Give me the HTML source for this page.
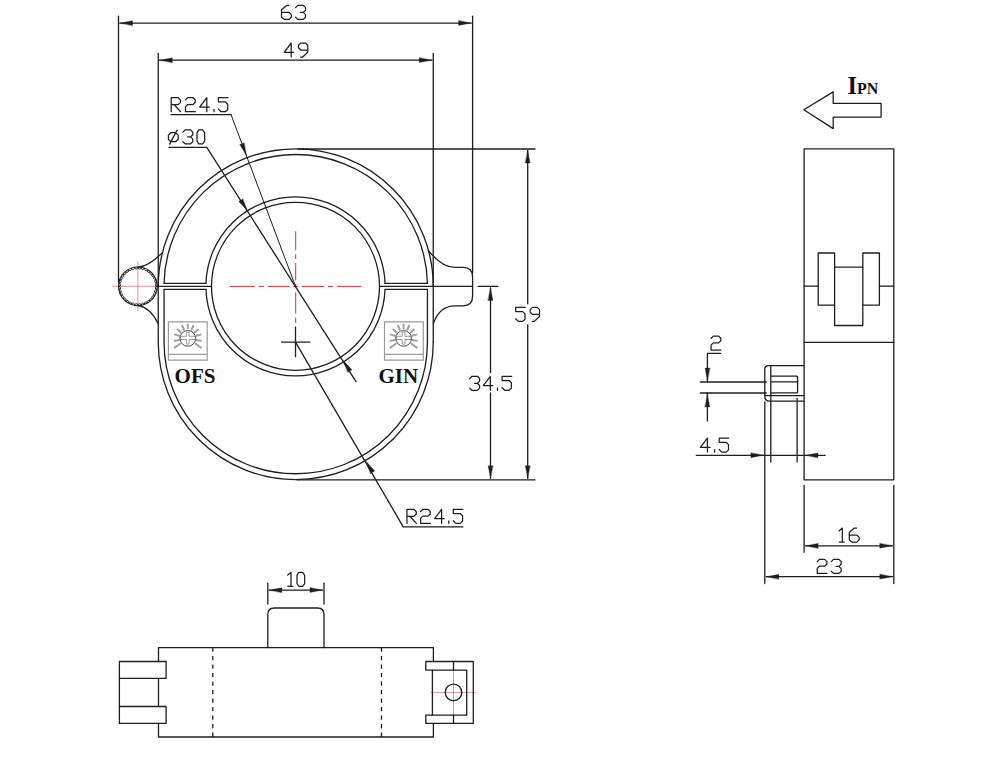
<!DOCTYPE html><html><head><meta charset="utf-8"><style>html,body{margin:0;padding:0;background:#fff;overflow:hidden}svg{display:block}.ar{fill:#1e1e1e;stroke-width:0.35;stroke-linejoin:bevel}.tx{stroke-width:1.25}text{font-family:"Liberation Serif",serif;font-weight:bold;fill:#111}</style></head><body><svg width="1000" height="758" viewBox="0 0 1000 758"><rect width="1000" height="758" fill="#fff"/><path d="M229.6 286.4H254.8M258.7 286.4H263.9M267.8 286.4H289.6M293.2 286.4H298.3M301.9 286.4H324.4M328 286.4H333.1M336.8 286.4H361.4M295.7 231.3V250.3M295.7 254.3V259M295.7 263V280.5M295.7 284.2V288.2M295.7 292.3V313.6M295.7 317.6V323.1" fill="none" stroke="#cc2a2f" stroke-width="0.95"/><path d="M112.3 286.3H157M137.9 261.3V311.1M430.7 692.4H475.7M453.5 670.2V715.1" fill="none" stroke="#cc4a58" stroke-width="0.6"/><g fill="none" stroke="#1e1e1e" stroke-width="1.3" stroke-linecap="round" stroke-linejoin="round"><line x1="118.5" y1="16.2" x2="118.5" y2="282"/><line x1="472.6" y1="16.2" x2="472.6" y2="273"/><line x1="119.8" y1="23.1" x2="471.3" y2="23.1"/><path class="ar" d="M120.2 23.1 L132.5 20.75 L132.5 25.45 Z"/><path class="ar" d="M470.9 23.1 L458.6 25.45 L458.6 20.75 Z"/><path class="tx" d="M288.9 5.4 L286.6 5.4 L281.5 9.7 L281.5 17 L284.1 19.4 L289.2 19.4 L291.4 17 L291.4 14.8 L289.2 12.4 L281.5 12.4M295.6 7.6 L297.8 5.4 L303.3 5.4 L305.5 7.6 L305.5 10.2 L303.3 12.4 L300.4 12.4M303.3 12.4 L305.5 14.6 L305.5 17.2 L303.3 19.4 L297.8 19.4 L295.6 17.2"/><line x1="158.25" y1="53.4" x2="158.25" y2="342.1"/><line x1="433.25" y1="53.4" x2="433.25" y2="342.1"/><line x1="159.55" y1="60.2" x2="431.95" y2="60.2"/><path class="ar" d="M159.95 60.2 L172.25 57.85 L172.25 62.55 Z"/><path class="ar" d="M431.55 60.2 L419.25 62.55 L419.25 57.85 Z"/><path class="tx" d="M291.2 57 L291.2 43 L284.2 52.3 L293.8 52.3M307.8 50 L300.8 50 L298.5 47.8 L298.5 45.2 L300.8 43 L305.6 43 L307.8 45.2 L307.8 52.1 L302.7 57 L300.6 57"/><path d="M158.25 286.3 A137.5 137.5 0 0 1 433.25 286.3"/><path d="M158.25 342.1 A137.5 137.5 0 0 0 433.25 342.1"/><path d="M164.08 283.4 A131.7 131.7 0 0 1 427.42 283.4"/><line x1="164.08" y1="283.4" x2="205.95" y2="283.4"/><line x1="385.05" y1="283.4" x2="427.42" y2="283.4"/><path d="M205.95 283.4 A89.6 89.6 0 0 1 385.05 283.4"/><path d="M164.05 289.3 L164.05 342.1 A131.7 131.7 0 0 0 427.45 342.1 L427.45 289.3"/><line x1="164.05" y1="289.3" x2="205.95" y2="289.3"/><line x1="385.05" y1="289.3" x2="427.45" y2="289.3"/><path d="M205.95 289.3 A89.6 89.6 0 0 0 385.05 289.3"/><circle cx="295.5" cy="286.3" r="84"/><line x1="158.25" y1="286.4" x2="211.5" y2="286.4"/><line x1="379.5" y1="286.4" x2="472.6" y2="286.4"/><path d="M428.4 250.6 C436 260 444 267.4 455 267.4 L463 267.4 Q472.6 267.4 472.6 277 L472.6 296 Q472.6 305.8 463 305.8 L455 305.8 C444 305.8 437 313 433.3 323.6"/><path d="M161.6 253.4 C153 262 146 266.6 138 267.2"/><path d="M138 305.4 C146 307 153 313 158.1 323.5"/><circle cx="137.9" cy="286.3" r="19.3" stroke-width="1.2"/><path d="M156.9 286.3 A1.66 1.66 0 0 0 156.61 289.6M156.61 289.6 A1.66 1.66 0 0 0 155.75 292.8M155.75 292.8 A1.66 1.66 0 0 0 154.35 295.8M154.35 295.8 A1.66 1.66 0 0 0 152.45 298.51M152.45 298.51 A1.66 1.66 0 0 0 150.11 300.85M150.11 300.85 A1.66 1.66 0 0 0 147.4 302.75M147.4 302.75 A1.66 1.66 0 0 0 144.4 304.15M144.4 304.15 A1.66 1.66 0 0 0 141.2 305.01M141.2 305.01 A1.66 1.66 0 0 0 137.9 305.3M137.9 305.3 A1.66 1.66 0 0 0 134.6 305.01M134.6 305.01 A1.66 1.66 0 0 0 131.4 304.15M131.4 304.15 A1.66 1.66 0 0 0 128.4 302.75M128.4 302.75 A1.66 1.66 0 0 0 125.69 300.85M125.69 300.85 A1.66 1.66 0 0 0 123.35 298.51M123.35 298.51 A1.66 1.66 0 0 0 121.45 295.8M121.45 295.8 A1.66 1.66 0 0 0 120.05 292.8M120.05 292.8 A1.66 1.66 0 0 0 119.19 289.6M119.19 289.6 A1.66 1.66 0 0 0 118.9 286.3M118.9 286.3 A1.66 1.66 0 0 0 119.19 283M119.19 283 A1.66 1.66 0 0 0 120.05 279.8M120.05 279.8 A1.66 1.66 0 0 0 121.45 276.8M121.45 276.8 A1.66 1.66 0 0 0 123.35 274.09M123.35 274.09 A1.66 1.66 0 0 0 125.69 271.75M125.69 271.75 A1.66 1.66 0 0 0 128.4 269.85M128.4 269.85 A1.66 1.66 0 0 0 131.4 268.45M131.4 268.45 A1.66 1.66 0 0 0 134.6 267.59M134.6 267.59 A1.66 1.66 0 0 0 137.9 267.3M137.9 267.3 A1.66 1.66 0 0 0 141.2 267.59M141.2 267.59 A1.66 1.66 0 0 0 144.4 268.45M144.4 268.45 A1.66 1.66 0 0 0 147.4 269.85M147.4 269.85 A1.66 1.66 0 0 0 150.11 271.75M150.11 271.75 A1.66 1.66 0 0 0 152.45 274.09M152.45 274.09 A1.66 1.66 0 0 0 154.35 276.8M154.35 276.8 A1.66 1.66 0 0 0 155.75 279.8M155.75 279.8 A1.66 1.66 0 0 0 156.61 283M156.61 283 A1.66 1.66 0 0 0 156.9 286.3" stroke-width="0.95"/><line x1="171" y1="114.6" x2="231" y2="114.6"/><line x1="231" y1="114.6" x2="295.5" y2="286.3" stroke-width="1"/><path class="ar" d="M246.3 155.3 L239.77 144.61 L244.17 142.96 Z"/><path class="tx" d="M171.2 111.7 L171.2 97.7 L178.25 97.7 L180.5 100.1 L180.5 102.35 L178.25 104.6 L171.2 104.6M174.05 104.6 L180.65 111.7M185.5 99.9 L187.7 97.7 L193 97.7 L195.2 99.9 L195.2 102.3 L193 104.5 L187.7 104.5 L185.5 106.7 L185.5 111.7 L195.3 111.7M206.8 111.7 L206.8 97.7 L199.8 107 L209.4 107M214 109.3 L214 111.7M228 97.7 L218.4 97.7 L218.4 101.9 L225.4 101.9 L227.7 104.2 L227.7 109.5 L225.4 111.7 L221 111.7 L218.4 109.1"/><line x1="169" y1="147.4" x2="206.8" y2="147.4"/><line x1="206.8" y1="147.4" x2="356" y2="381.6"/><path class="ar" d="M247.4 210.6 L238.77 201.52 L242.73 198.98 Z"/><path class="ar" d="M343.3 360.6 L351.89 369.71 L347.93 372.24 Z"/><path class="tx" d="M170.8 132.73 L175.55 132.73 L178.19 135.1 L178.19 139.33 L175.55 141.7 L170.8 141.7 L168.43 139.33 L168.43 135.1 L170.8 132.73M169.62 144.08 L177.14 130.09M182.9 132.1 L185.1 129.9 L190.6 129.9 L192.8 132.1 L192.8 134.7 L190.6 136.9 L187.7 136.9M190.6 136.9 L192.8 139.1 L192.8 141.7 L190.6 143.9 L185.1 143.9 L182.9 141.7M198.7 129.9 L202.6 129.9 L204.7 132.9 L204.7 141.1 L202.6 143.9 L198.7 143.9 L197 141.1 L197 132.9 L198.7 129.9"/><line x1="295.5" y1="342.1" x2="403.2" y2="526.8"/><line x1="403.2" y1="526.8" x2="463" y2="526.8"/><path class="ar" d="M366.4 461.6 L374.63 471.04 L370.57 473.41 Z"/><path class="tx" d="M406.95 523.35 L406.95 509.35 L414 509.35 L416.25 511.75 L416.25 514 L414 516.25 L406.95 516.25M409.8 516.25 L416.4 523.35M420.6 511.55 L422.8 509.35 L428.1 509.35 L430.3 511.55 L430.3 513.95 L428.1 516.15 L422.8 516.15 L420.6 518.35 L420.6 523.35 L430.4 523.35M441.6 523.35 L441.6 509.35 L434.6 518.65 L444.2 518.65M448.8 520.95 L448.8 523.35M462.9 509.35 L453.3 509.35 L453.3 513.55 L460.3 513.55 L462.6 515.85 L462.6 521.15 L460.3 523.35 L455.9 523.35 L453.3 520.75"/><line x1="281.5" y1="342.1" x2="310" y2="342.1"/><line x1="295.5" y1="327.1" x2="295.5" y2="356.7"/><line x1="298" y1="149" x2="535" y2="149"/><line x1="297" y1="479.8" x2="535" y2="479.8"/><line x1="527.7" y1="150.5" x2="527.7" y2="303.8"/><line x1="527.7" y1="324.8" x2="527.7" y2="478.4"/><path class="ar" d="M527.7 150.7 L530.05 163 L525.35 163 Z"/><path class="ar" d="M527.7 478.1 L525.35 465.8 L530.05 465.8 Z"/><path class="tx" d="M525.3 307.4 L515.7 307.4 L515.7 311.6 L522.7 311.6 L525 313.9 L525 319.2 L522.7 321.4 L518.3 321.4 L515.7 318.8M539.5 314.4 L532.5 314.4 L530.2 312.2 L530.2 309.6 L532.5 307.4 L537.3 307.4 L539.5 309.6 L539.5 316.5 L534.4 321.4 L532.3 321.4"/><line x1="478.2" y1="286.4" x2="497.8" y2="286.4"/><line x1="490.5" y1="287.9" x2="490.5" y2="372.7"/><line x1="490.5" y1="393" x2="490.5" y2="478.4"/><path class="ar" d="M490.5 288.1 L492.85 300.4 L488.15 300.4 Z"/><path class="ar" d="M490.5 478.1 L488.15 465.8 L492.85 465.8 Z"/><path class="tx" d="M469.7 378.5 L471.9 376.3 L477.4 376.3 L479.6 378.5 L479.6 381.1 L477.4 383.3 L474.5 383.3M477.4 383.3 L479.6 385.5 L479.6 388.1 L477.4 390.3 L471.9 390.3 L469.7 388.1M490.3 390.3 L490.3 376.3 L483.3 385.6 L492.9 385.6M497.5 387.9 L497.5 390.3M511.7 376.3 L502.1 376.3 L502.1 380.5 L509.1 380.5 L511.4 382.8 L511.4 388.1 L509.1 390.3 L504.7 390.3 L502.1 387.7"/><path d="M803.8 109.7 L833.2 91.9 L833.2 103.4 L881.1 103.4 L881.1 117.1 L833.2 117.1 L833.2 128.6 Z"/><rect x="804.1" y="148.9" width="89.7" height="330.9"/><line x1="804.1" y1="342.4" x2="893.8" y2="342.4"/><rect x="818.2" y="253" width="16.4" height="52.2"/><rect x="862.8" y="253" width="16.6" height="52.2"/><path d="M834.6 267.2 L862.8 267.2"/><path d="M834.6 305.2 L834.6 325.5 L862.8 325.5 L862.8 305.2"/><line x1="804.1" y1="286.2" x2="818.2" y2="286.2"/><line x1="879.4" y1="286.2" x2="893.8" y2="286.2"/><path d="M804.1 365.6 L768.3 365.6 Q764.8 365.6 764.8 369.1 L764.8 396 Q764.8 401.2 770 401.2 L804.1 401.2"/><line x1="764.8" y1="395.6" x2="804.1" y2="395.6"/><line x1="770.8" y1="365.6" x2="770.8" y2="462"/><path d="M771.2 376.2 L796.6 376.2 Q797.6 376.2 797.6 377.2 L797.6 391.9 Q797.6 392.9 796.6 392.9 L771.2 392.9"/><line x1="771.2" y1="381.8" x2="797.6" y2="381.8"/><line x1="764.8" y1="402" x2="764.8" y2="583.5"/><line x1="797.1" y1="398.4" x2="797.1" y2="462"/><line x1="700.3" y1="382" x2="766.3" y2="382"/><line x1="700.3" y1="393" x2="766.3" y2="393"/><path d="M720.6 353.4 L707.4 353.4 L707.4 382"/><line x1="707.4" y1="393" x2="707.4" y2="421"/><path class="ar" d="M707.4 380.4 L705.05 368.1 L709.75 368.1 Z"/><path class="ar" d="M707.4 394.6 L709.75 406.9 L705.05 406.9 Z"/><path class="tx" d="M711.1 338.3 L713.3 336.1 L718.6 336.1 L720.8 338.3 L720.8 340.7 L718.6 342.9 L713.3 342.9 L711.1 345.1 L711.1 350.1 L720.9 350.1"/><line x1="696.3" y1="455.3" x2="825.2" y2="455.3"/><path class="ar" d="M763.2 455.3 L750.9 457.65 L750.9 452.95 Z"/><path class="ar" d="M805.7 455.3 L818 452.95 L818 457.65 Z"/><path class="tx" d="M707.4 452.1 L707.4 438.1 L700.4 447.4 L710 447.4M714.6 449.7 L714.6 452.1M728.8 438.1 L719.2 438.1 L719.2 442.3 L726.2 442.3 L728.5 444.6 L728.5 449.9 L726.2 452.1 L721.8 452.1 L719.2 449.5"/><line x1="804.1" y1="485.4" x2="804.1" y2="552.3"/><line x1="893.8" y1="485.4" x2="893.8" y2="583.5"/><line x1="805.4" y1="545.8" x2="892.5" y2="545.8"/><path class="ar" d="M805.8 545.8 L818.1 543.45 L818.1 548.15 Z"/><path class="ar" d="M892.1 545.8 L879.8 548.15 L879.8 543.45 Z"/><path class="tx" d="M839 530.9 L842.3 528.1 L842.3 542.1M839.2 542.1 L844.2 542.1M856.7 528.1 L854.4 528.1 L849.3 532.4 L849.3 539.7 L851.9 542.1 L857 542.1 L859.2 539.7 L859.2 537.5 L857 535.1 L849.3 535.1"/><line x1="766.1" y1="576.7" x2="892.5" y2="576.7"/><path class="ar" d="M766.5 576.7 L778.8 574.35 L778.8 579.05 Z"/><path class="ar" d="M892.1 576.7 L879.8 579.05 L879.8 574.35 Z"/><path class="tx" d="M817.2 561.6 L819.4 559.4 L824.7 559.4 L826.9 561.6 L826.9 564 L824.7 566.2 L819.4 566.2 L817.2 568.4 L817.2 573.4 L827 573.4M831.3 561.6 L833.5 559.4 L839 559.4 L841.2 561.6 L841.2 564.2 L839 566.4 L836.1 566.4M839 566.4 L841.2 568.6 L841.2 571.2 L839 573.4 L833.5 573.4 L831.3 571.2"/><path d="M158.5 661.5 V647.6 H433.4 V661.5 M432.4 670.2 V715.1 M433.4 723.4 V737 H158.5 V723.4 M158.5 678.4 V706.5"/><path d="M267.8 647.6 L267.8 614.5 Q267.8 608 274.3 608 L317.5 608 Q324 608 324 614.5 L324 647.6"/><line x1="267.8" y1="583.2" x2="267.8" y2="604"/><line x1="324" y1="583.2" x2="324" y2="604"/><line x1="269.1" y1="590.1" x2="322.7" y2="590.1"/><path class="ar" d="M269.5 590.1 L281.8 587.75 L281.8 592.45 Z"/><path class="ar" d="M322.3 590.1 L310 592.45 L310 587.75 Z"/><path class="tx" d="M287.7 575.1 L291 572.3 L291 586.3M287.9 586.3 L292.9 586.3M298.7 572.3 L302.6 572.3 L304.7 575.3 L304.7 583.5 L302.6 586.3 L298.7 586.3 L297 583.5 L297 575.3 L298.7 572.3"/><path d="M212.8 647.6V737M381.5 647.6V737" stroke-dasharray="4.2 4.3" stroke-linecap="butt"/><rect x="119.4" y="661.5" width="46.7" height="16.9"/><rect x="119.4" y="706.5" width="46.7" height="16.9"/><line x1="119.4" y1="678.4" x2="119.4" y2="706.5"/><path d="M433.4 661.5 H473.3 V723.4 H425.8 V715.1 H466.7 V670.2 H425.8 V661.5 H433.4"/><line x1="453.5" y1="661.5" x2="453.5" y2="670.2"/><line x1="453.5" y1="715.1" x2="453.5" y2="723.4"/><circle cx="453.5" cy="692.4" r="8.3"/></g><g fill="none"><path d="M168.4 321.9 H207.2 V360.2 H168.4 Z M168.4 354.4 H207.2" stroke="#9a9a9a" stroke-width="1.2"/><path d="M187.8 328.6 L187.8 324.4M187.8 328.6 L187.8 324.4M191.63 329.6 L193.3 325.74M183.97 329.6 L182.3 325.74M194.76 332.39 L198.02 329.58M180.84 332.39 L177.58 329.58M196.62 335.79 L200.65 334.59M178.98 335.79 L174.95 334.59M196.65 340.04 L201.07 340.86M178.95 340.04 L174.53 340.86M195.5 343.79 L200.99 347.63M180.1 343.79 L174.61 347.63" stroke="#a0a0a0" stroke-width="2.0" stroke-linecap="round"/><circle cx="187.8" cy="338.4" r="7.85" stroke="#4a4a4a" stroke-width="1.0"/><path d="M186.4 332.2 L189.2 332.2 L189.2 336.3 L195.4 336.3 L195.4 339.5 L189.2 339.5 L189.2 344.1 L186.4 344.1 L186.4 339.5 L180.2 339.5 L180.2 336.3 L186.4 336.3 Z" stroke="#7a7a7a" stroke-width="0.75"/></g><g fill="none"><path d="M384.5 321.9 H423.3 V360.2 H384.5 Z M384.5 354.4 H423.3" stroke="#9a9a9a" stroke-width="1.2"/><path d="M403.6 328.6 L403.6 324.4M403.6 328.6 L403.6 324.4M407.43 329.6 L409.1 325.74M399.77 329.6 L398.1 325.74M410.56 332.39 L413.82 329.58M396.64 332.39 L393.38 329.58M412.42 335.79 L416.45 334.59M394.78 335.79 L390.75 334.59M412.45 340.04 L416.87 340.86M394.75 340.04 L390.33 340.86M411.3 343.79 L416.79 347.63M395.9 343.79 L390.41 347.63" stroke="#a0a0a0" stroke-width="2.0" stroke-linecap="round"/><circle cx="403.6" cy="338.4" r="7.85" stroke="#4a4a4a" stroke-width="1.0"/><path d="M402.2 332.2 L405 332.2 L405 336.3 L411.2 336.3 L411.2 339.5 L405 339.5 L405 344.1 L402.2 344.1 L402.2 339.5 L396 339.5 L396 336.3 L402.2 336.3 Z" stroke="#7a7a7a" stroke-width="0.75"/></g><text x="174.6" y="382.6" font-size="21">OFS</text><text x="378.5" y="382.6" font-size="21">GIN</text><text x="847.6" y="93.6" font-size="24.3">I<tspan font-size="15.9">PN</tspan></text></svg></body></html>
